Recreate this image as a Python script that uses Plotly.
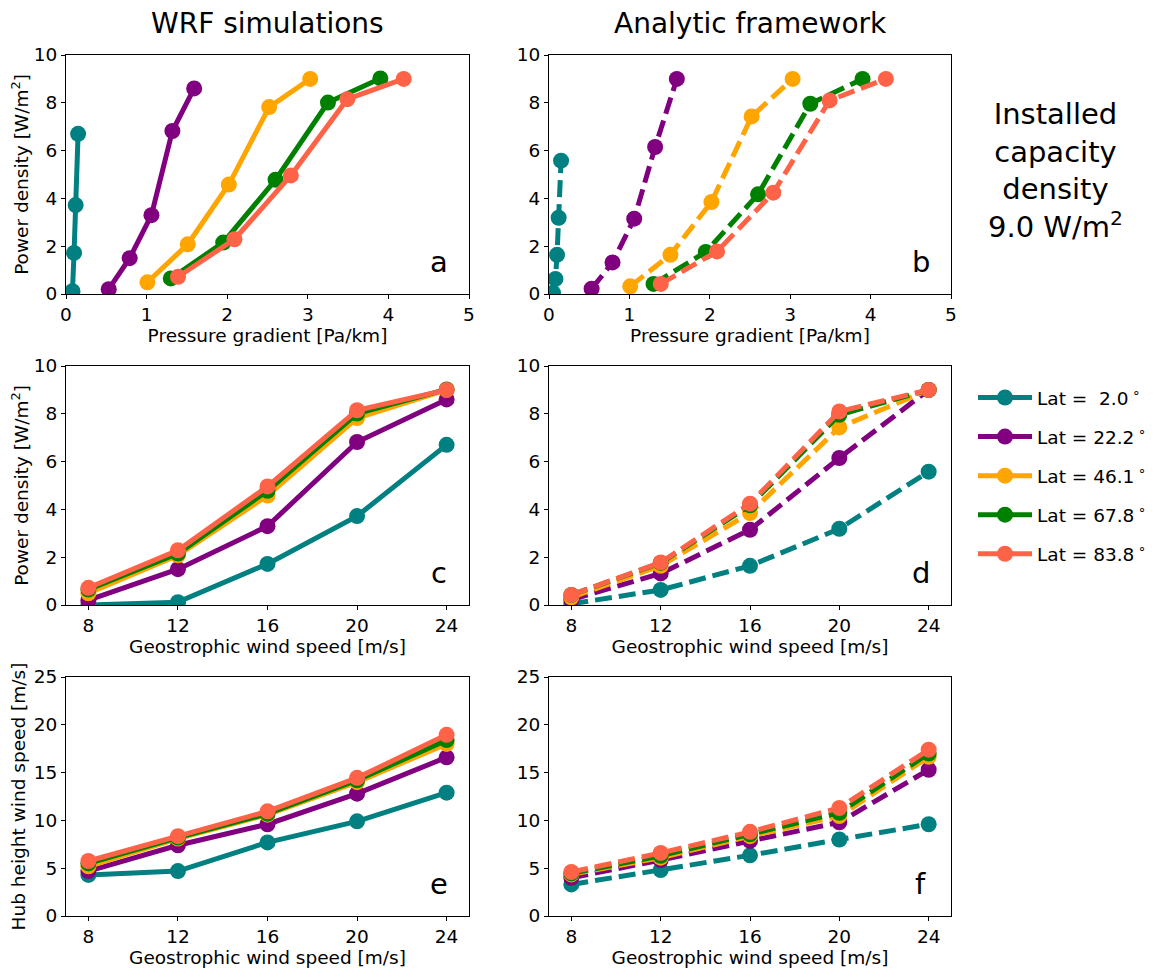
import plotly.graph_objects as go

# ---------------- data ----------------
lat_labels = ["Lat =\u00a0\u00a02.0\u2009<sup>\u2218</sup>", "Lat = 22.2\u2009<sup>\u2218</sup>",
              "Lat = 46.1\u2009<sup>\u2218</sup>", "Lat = 67.8\u2009<sup>\u2218</sup>",
              "Lat = 83.8\u2009<sup>\u2218</sup>"]
colors = ["#008080", "#800080", "#FFA500", "#008000", "#FF6347"]

geo_wind = [8, 12, 16, 20, 24]

# pressure gradient [Pa/km] per latitude (same for WRF and analytic)
pg_lat02 = [0.05, 0.08, 0.10, 0.12, 0.15]
pg_lat22 = [0.53, 0.79, 1.06, 1.32, 1.59]
pg_lat46 = [1.01, 1.51, 2.02, 2.52, 3.03]
pg_lat68 = [1.30, 1.95, 2.60, 3.25, 3.90]
pg_lat84 = [1.39, 2.09, 2.79, 3.49, 4.19]

# WRF power density [W/m2]
wrf_pd_lat02 = [0.0, 0.12, 1.72, 3.72, 6.70]
wrf_pd_lat22 = [0.20, 1.50, 3.30, 6.82, 8.60]
wrf_pd_lat46 = [0.49, 2.08, 4.58, 7.82, 9.00]
wrf_pd_lat68 = [0.65, 2.15, 4.78, 8.01, 9.02]
wrf_pd_lat84 = [0.72, 2.29, 4.96, 8.15, 9.00]

# Analytic power density [W/m2]
ana_pd_lat02 = [0.05, 0.63, 1.64, 3.19, 5.58]
ana_pd_lat22 = [0.22, 1.32, 3.15, 6.15, 9.00]
ana_pd_lat46 = [0.32, 1.64, 3.85, 7.43, 9.00]
ana_pd_lat68 = [0.42, 1.76, 4.17, 7.96, 9.00]
ana_pd_lat84 = [0.42, 1.78, 4.24, 8.10, 9.00]

# WRF hub height wind speed [m/s]
wrf_hub_lat02 = [4.3, 4.7, 7.7, 9.9, 12.9]
wrf_hub_lat22 = [4.7, 7.4, 9.6, 12.8, 16.6]
wrf_hub_lat46 = [5.2, 8.1, 10.6, 14.0, 18.0]
wrf_hub_lat68 = [5.5, 8.2, 10.7, 14.2, 18.4]
wrf_hub_lat84 = [5.75, 8.35, 10.95, 14.45, 18.95]

# Analytic hub height wind speed [m/s]
ana_hub_lat02 = [3.3, 4.8, 6.35, 8.0, 9.6]
ana_hub_lat22 = [4.0, 5.85, 7.85, 9.8, 15.3]
ana_hub_lat46 = [4.35, 6.1, 8.35, 10.45, 16.65]
ana_hub_lat68 = [4.45, 6.3, 8.55, 10.8, 17.0]
ana_hub_lat84 = [4.6, 6.6, 8.8, 11.3, 17.4]

pg = [pg_lat02, pg_lat22, pg_lat46, pg_lat68, pg_lat84]
wrf_pd = [wrf_pd_lat02, wrf_pd_lat22, wrf_pd_lat46, wrf_pd_lat68, wrf_pd_lat84]
ana_pd = [ana_pd_lat02, ana_pd_lat22, ana_pd_lat46, ana_pd_lat68, ana_pd_lat84]
wrf_hub = [wrf_hub_lat02, wrf_hub_lat22, wrf_hub_lat46, wrf_hub_lat68, wrf_hub_lat84]
ana_hub = [ana_hub_lat02, ana_hub_lat22, ana_hub_lat46, ana_hub_lat68, ana_hub_lat84]

pg_ticks = [0, 1, 2, 3, 4, 5]
ws_ticks = [8, 12, 16, 20, 24]
pd_ticks = [0, 2, 4, 6, 8, 10]
hub_ticks = [0, 5, 10, 15, 20, 25]

# ---------------- layout geometry ----------------
OFF = 8                      # page body margin
W, H = 1154 - OFF, 969 - OFF
FONT = "DejaVu Sans"
TS = 18.5
cols = [(66, 469), (549, 951)]
rows = [(55, 294), (366, 605), (677, 916)]


def px(x):
    return (x - OFF) / W


def py(y):
    return 1 - (y - OFF) / H


fig = go.Figure()

panels = [
    # (row, col, xs, ys, dashed, letter)
    (0, 0, pg, wrf_pd, False, "a"),
    (0, 1, pg, ana_pd, True, "b"),
    (1, 0, None, wrf_pd, False, "c"),
    (1, 1, None, ana_pd, True, "d"),
    (2, 0, None, wrf_hub, False, "e"),
    (2, 1, None, ana_hub, True, "f"),
]

axis_common = dict(showgrid=False, zeroline=False, showline=True, linecolor="black",
                   linewidth=1, mirror=True, ticks="outside", ticklen=4, tickwidth=1,
                   tickcolor="black", automargin=False,
                   tickfont=dict(family=FONT, size=TS, color="black"))

for i, (r, c, xs, ys, dashed, letter) in enumerate(panels):
    n = i + 1
    xa = "x" if n == 1 else f"x{n}"
    ya = "y" if n == 1 else f"y{n}"
    for k in range(5):
        xvals = xs[k] if xs is not None else geo_wind
        fig.add_trace(go.Scatter(
            x=xvals, y=ys[k], mode="lines+markers", xaxis=xa, yaxis=ya,
            name=lat_labels[k], legendgroup=f"g{k}", showlegend=(n == 1),
            line=dict(color=colors[k], width=5, dash="17px,7px" if dashed else "solid"),
            marker=dict(color=colors[k], size=16),
        ))
    if r == 0:
        xaxis = dict(range=[0, 5], tickvals=pg_ticks,
                     title=dict(text="Pressure gradient [Pa/km]", standoff=4,
                                font=dict(family=FONT, size=TS, color="black")))
        yaxis = dict(range=[0, 10], tickvals=pd_ticks)
    else:
        xaxis = dict(range=[7, 25], tickvals=ws_ticks,
                     title=dict(text="Geostrophic wind speed [m/s]", standoff=4,
                                font=dict(family=FONT, size=TS, color="black")))
        if r == 1:
            yaxis = dict(range=[0, 10], tickvals=pd_ticks)
        else:
            yaxis = dict(range=[0, 25], tickvals=hub_ticks)
    if c == 0:
        ytitle = "Power density [W/m<sup>2</sup>]" if r < 2 else "Hub height wind speed [m/s]"
        yaxis["title"] = dict(text=ytitle, standoff=4, font=dict(family=FONT, size=TS, color="black"))
    xaxis.update(axis_common, domain=[px(cols[c][0]), px(cols[c][1])], anchor=ya)
    yaxis.update(axis_common, domain=[py(rows[r][1]), py(rows[r][0])], anchor=xa)
    key = "" if n == 1 else str(n)
    fig.update_layout(**{f"xaxis{key}": xaxis, f"yaxis{key}": yaxis})
    fig.add_annotation(text=letter, xref=f"{xa} domain", yref=f"{ya} domain",
                       x=0.925, y=0.135, showarrow=False, xanchor="center", yanchor="middle",
                       font=dict(family=FONT, size=29, color="black"))

# column titles
fig.add_annotation(text="WRF simulations", xref="paper", yref="paper",
                   x=px((cols[0][0] + cols[0][1]) / 2), y=py(24), showarrow=False,
                   xanchor="center", yanchor="middle", borderpad=0,
                   font=dict(family=FONT, size=28, color="black"))
fig.add_annotation(text="Analytic framework", xref="paper", yref="paper",
                   x=px((cols[1][0] + cols[1][1]) / 2), y=py(24), showarrow=False,
                   xanchor="center", yanchor="middle", borderpad=0,
                   font=dict(family=FONT, size=28, color="black"))
fig.add_annotation(text="Installed<br>capacity<br>density<br>9.0 W/m<sup>2</sup>", xref="paper", yref="paper",
                   x=px(1055), y=py(170), showarrow=False, xanchor="center", yanchor="middle",
                   font=dict(family=FONT, size=29, color="black"))

fig.update_layout(
    width=W, height=H, margin=dict(l=0, r=0, t=0, b=0, autoexpand=False),
    paper_bgcolor="white", plot_bgcolor="white",
    font=dict(family=FONT, size=TS, color="black"),
    legend=dict(x=px(973), y=py(379), xanchor="left", yanchor="top",
                font=dict(family=FONT, size=TS, color="black"), tracegroupgap=12,
                bgcolor="rgba(0,0,0,0)", itemwidth=54),
)

fig.write_html("out.html")
